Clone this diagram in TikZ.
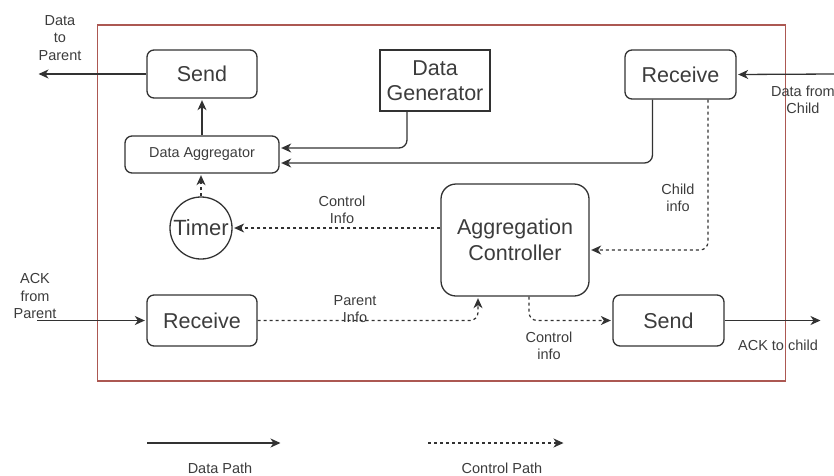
\documentclass[tikz,border=0pt]{standalone}
\usepackage{fontspec}
\setmainfont{Liberation Sans}
\usetikzlibrary{arrows.meta,calc}
\definecolor{framec}{RGB}{172,88,82}
\definecolor{ink}{RGB}{50,50,50}
\definecolor{txt}{RGB}{60,60,60}
\begin{document}
\begin{tikzpicture}[x=1pt,y=-1pt,
  box/.style={draw=ink, line width=1.3pt, rounded corners=7pt, inner sep=0pt,
    font=\fontsize{21.5}{25}\selectfont, text=txt, align=center},
  sqbox/.style={box, rounded corners=0pt, line width=1.1pt},
  lbl/.style={inner sep=0pt, align=center, text=txt, font=\fontsize{14.5}{17.5}\selectfont},
  tip/.style={-{Stealth[length=10pt,width=9pt,inset=3pt]}, shorten >=1.5pt},
  datap/.style={tip, draw=ink, line width=1.3pt},
  ctrlp/.style={tip, draw=ink, line width=1.2pt, dash pattern=on 3pt off 3pt},
  framebox/.style={draw=framec, line width=1.1pt, inner sep=0pt}]
\useasboundingbox (0,0) rectangle (834,475);
\node[framebox, minimum width=688pt, minimum height=356pt] (frame) at (441.5,203) {};
% boxes
\node[box, minimum width=110pt, minimum height=48pt] (sendT) at (202,74) {Send};
\node[sqbox, minimum width=110pt, minimum height=61pt] (dg) at (435,80.5) {Data\\Generator};
\node[box, minimum width=111pt, minimum height=49pt] (recvT) at (680.5,74.5) {Receive};
\node[box, minimum width=154pt, minimum height=37pt, font=\fontsize{14.4}{17}\selectfont] (agg) at (202,154.5) {Data Aggregator};
\node[box, circle, minimum size=62pt, font=\fontsize{22}{25}\selectfont] (timer) at (201,228) {Timer};
\node[box, rounded corners=15pt, minimum width=148pt, minimum height=112pt, font=\fontsize{21.5}{26}\selectfont] (ctrl) at (515,240) {Aggregation\\Controller};
\node[box, minimum width=110pt, minimum height=51pt] (recvB) at (202,320.5) {Receive};
\node[box, minimum width=111pt, minimum height=51pt] (sendB) at (668.5,320.5) {Send};
% labels
\node[lbl] (lparent) at (60,38) {Data\\to\\Parent};
\node[lbl] (lchild) at (803,100) {Data from\\Child};
\node[lbl] (lchildinfo) at (678,198) {Child\\info};
\node[lbl] (lctrlinfo) at (342,210) {Control\\Info};
\node[lbl] (lack) at (35,296) {ACK\\from\\Parent};
\node[lbl] (lparinfo) at (355,309) {Parent\\Info};
\node[lbl] (lctrlinfo2) at (549,346) {Control\\info};
\node[lbl] (lackchild) at (778,345) {ACK to child};
\node[lbl] (ldata) at (220,468) {Data Path};
\node[lbl] (lctrl) at (502,468) {Control Path};
% free ends
\coordinate (pout) at (37,74);
\coordinate (cin) at (834,74);
\coordinate (ackin) at (37,320.5);
\coordinate (ackout) at (822,320.5);
\coordinate (leg1a) at (147,443);
\coordinate (leg1b) at (282,443);
\coordinate (leg2a) at (428,443);
\coordinate (leg2b) at (565,443);
% data paths
\draw[datap] (sendT.west) -- (pout);
\draw[datap] (agg.north) -- (sendT.south);
\draw[datap, rounded corners=8pt] ([xshift=-28pt]dg.south) |- (agg.east |- 0,148);
\draw[datap, rounded corners=8pt] ([xshift=-28pt]recvT.south) |- (agg.east |- 0,163);
\draw[datap] (cin) -- (recvT.east);
\draw[datap] (ackin) -- (recvB.west);
\draw[datap] (sendB.east) -- (ackout);
% control paths
\draw[ctrlp, rounded corners=8pt] ([xshift=27.5pt]recvT.south) |- (ctrl.east |- 0,250);
\draw[ctrlp] (ctrl.west |- timer.east) -- (timer.east);
\draw[ctrlp] (timer.north) -- (timer.north |- agg.south);
\draw[ctrlp, rounded corners=8pt] (recvB.east) -| ([xshift=-37pt]ctrl.south);
\draw[ctrlp, rounded corners=8pt] ([xshift=14pt]ctrl.south) |- (sendB.west);
% legend
\draw[datap] (leg1a) -- (leg1b);
\draw[ctrlp] (leg2a) -- (leg2b);
\end{tikzpicture}
\end{document}
